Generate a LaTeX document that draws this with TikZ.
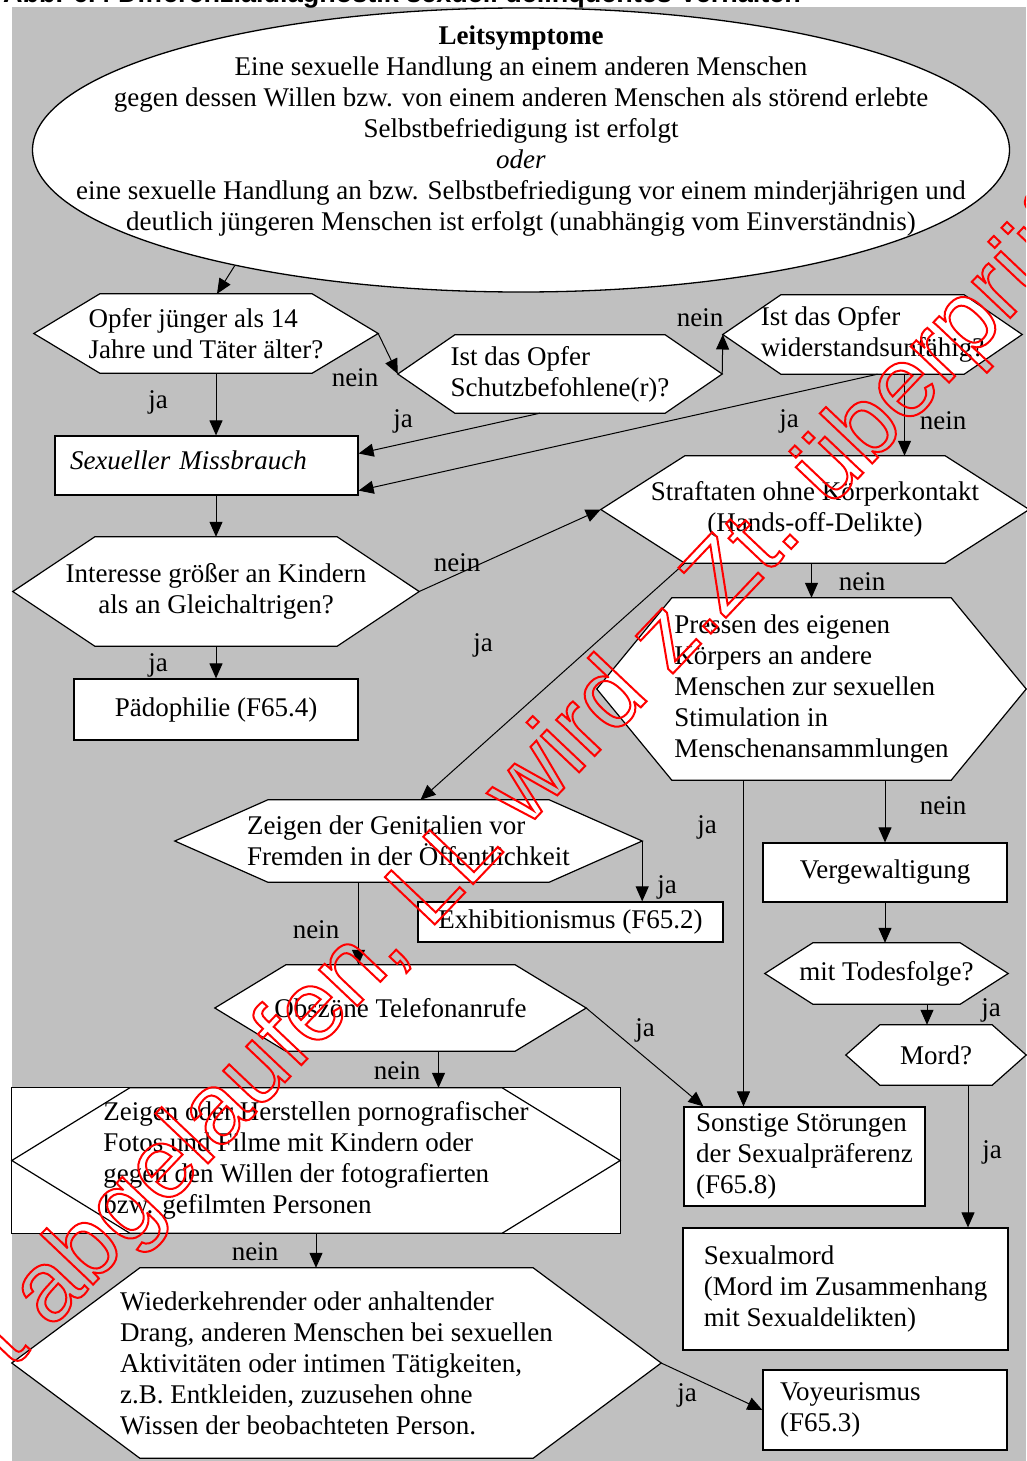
\documentclass[tikz,border=0pt]{standalone}
\usepackage{fontspec}
\setmainfont{Liberation Serif}
\newfontfamily\headsans{Liberation Sans}
\usetikzlibrary{arrows.meta}
\usetikzlibrary{calc}
\usetikzlibrary{positioning}
\usetikzlibrary{shapes.geometric}
\usetikzlibrary{backgrounds}

\newcommand{\bodyfont}{\fontsize{27}{31}\selectfont}
\newcommand{\titlefont}{\headsans\bfseries\fontsize{27}{31}\selectfont}
\newcommand{\stampfont}{\headsans\fontsize{100}{110}\selectfont}
\newcommand{\outlinetext}[1]{\special{pdf:literal direct 1 Tr 2 w 1 0 0 RG}#1\special{pdf:literal direct 0 Tr}}
\newcommand{\hexoutline}[2]{%
  \path[hexline] (#1.west) -- ($(#1.north west)+(#2,0)$) -- ($(#1.north east)+(-#2,0)$)
    -- (#1.east) -- ($(#1.south east)+(-#2,0)$) -- ($(#1.south west)+(#2,0)$) -- cycle;}

\definecolor{panelgray}{HTML}{C0C0C0}
\definecolor{stampred}{HTML}{FF0000}

\tikzset{
    leadshape/.style={ellipse, draw, fill=white, line width=1.3pt, inner sep=0pt,
        minimum width=977pt, minimum height=284pt},
    hexnode/.style={inner sep=0pt, align=left},
    hexline/.style={draw, fill=white, line width=1.2pt},
    boxnode/.style={draw, fill=white, line width=1.2pt, inner sep=0pt, align=left},
    answer/.style={inner sep=0pt},
    stampnode/.style={inner sep=0pt, font=\stampfont, text=stampred},
}
\tikzstyle{flowline} = [draw, line width=1pt, -{Triangle[length=15pt,width=13pt]}]

\begin{document}
\begin{tikzpicture}[x=1pt, y=-1pt, font=\bodyfont]
    \useasboundingbox (0,0) rectangle (1026,1461);

    % Leitsymptome
    \node (lead) [leadshape] at (521,150) {};
    \node (leadtext) [align=center, inner sep=0pt] at (521,131) {\textbf{Leitsymptome}\\
        Eine sexuelle Handlung an einem anderen Menschen\\
        gegen dessen Willen bzw. von einem anderen Menschen als störend erlebte\\
        Selbstbefriedigung ist erfolgt\\
        \textit{oder}\\
        eine sexuelle Handlung an bzw. Selbstbefriedigung vor einem minderjährigen und\\
        deutlich jüngeren Menschen ist erfolgt (unabhängig vom Einverständnis)};

    % first row of questions
    \node (opfer) [hexnode, minimum width=344pt, minimum height=79pt] at (206,333.5)
        {Opfer jünger als 14\\Jahre und Täter älter?};
    \node (schutz) [hexnode, minimum width=324pt, minimum height=78pt] at (560,374)
        {Ist das Opfer\\Schutzbefohlene(r)?};
    \node (wider) [hexnode, minimum width=299pt, minimum height=79pt] at (872.5,334.5)
        {Ist das Opfer\\widerstandsunfähig?};

    % left column
    \node (miss) [boxnode, minimum width=303pt, minimum height=59pt, text width=273pt,
        text depth=10pt] at (206.5,465.5) {\textit{Sexueller Missbrauch}};
    \node (inter) [hexnode, align=center, minimum width=406pt, minimum height=109pt] at (216,591.5)
        {Interesse größer an Kindern\\als an Gleichaltrigen?};
    \node (paedo) [boxnode, minimum width=284pt, minimum height=61pt] at (216,709.5)
        {Pädophilie (F65.4)};

    % right column
    \node (straf) [hexnode, align=center, minimum width=428pt, minimum height=107pt] at (815,509.5)
        {Straftaten ohne Körperkontakt\\(Hands-off-Delikte)};
    \node (pressen) [hexnode, minimum width=429pt, minimum height=182pt] at (811.5,689)
        {Pressen des eigenen\\Körpers an andere\\Menschen zur sexuellen\\Stimulation in\\Menschenansammlungen};
    \node (verge) [boxnode, minimum width=244pt, minimum height=59pt] at (885,872.5)
        {Vergewaltigung};
    \node (todes) [hexnode, minimum width=243pt, minimum height=61pt] at (886.5,973.5)
        {mit Todesfolge?};
    \node (mord) [hexnode, minimum width=180pt, minimum height=60pt] at (936,1055)
        {Mord?};
    \node (sonst) [boxnode, minimum width=241pt, minimum height=99pt] at (804.5,1156.5)
        {Sonstige Störungen\\der Sexualpräferenz\\(F65.8)};
    \node (sexmord) [boxnode, minimum width=325pt, minimum height=122pt] at (845.5,1289)
        {Sexualmord\\(Mord im Zusammenhang\\mit Sexualdelikten)};
    \node (voy) [boxnode, minimum width=244pt, minimum height=80pt, text width=210pt] at (885,1410)
        {Voyeurismus\\(F65.3)};

    % hands-off chain
    \node (genital) [hexnode, minimum width=467pt, minimum height=82pt] at (408.5,841)
        {Zeigen der Genitalien vor\\Fremden in der Öffentlichkeit};
    \node (exhib) [boxnode, minimum width=305pt, minimum height=40pt] at (570.5,922)
        {Exhibitionismus (F65.2)};
    \node (obsz) [hexnode, minimum width=371pt, minimum height=86pt] at (400.5,1008)
        {Obszöne Telefonanrufe};
    \node (porno) [hexnode, minimum width=608pt, minimum height=145pt] at (316,1160.5)
        {Zeigen oder Herstellen pornografischer\\Fotos und Filme mit Kindern oder\\gegen den Willen der fotografierten\\bzw. gefilmten Personen};
    \node (wieder) [hexnode, minimum width=649pt, minimum height=190pt] at (336.5,1363)
        {Wiederkehrender oder anhaltender\\Drang, anderen Menschen bei sexuellen\\Aktivitäten oder intimen Tätigkeiten,\\z.B. Entkleiden, zuzusehen ohne\\Wissen der beobachteten Person.};

    \begin{scope}[on background layer]
        \fill[panelgray] (12,7) rectangle (1026,1461);
        \hexoutline{opfer}{66}
        \hexoutline{schutz}{57}
        \hexoutline{wider}{58}
        \hexoutline{inter}{82}
        \hexoutline{straf}{84}
        \hexoutline{pressen}{75}
        \hexoutline{todes}{48}
        \hexoutline{mord}{34}
        \hexoutline{genital}{93}
        \hexoutline{obsz}{71}
        \path[hexline] (porno.north west) rectangle (porno.south east);
        \hexoutline{porno}{118}
        \hexoutline{wieder}{128}
    \end{scope}

    % connector ends
    \coordinate (opfer-in) at ($(opfer.north)+(11,0)$);
    \coordinate (schutz-ja) at ($(schutz.south)+(-20,0)$);
    \coordinate (miss-in1) at ($(miss.east)+(0,-12)$);
    \coordinate (wider-ja) at ($(wider.south)+(5,0)$);
    \coordinate (miss-in2) at ($(miss.south east)+(0,-5)$);
    \coordinate (wider-nein) at ($(wider.south)+(32,0)$);
    \coordinate (straf-ja) at ($(straf.south west)+(84,0)$);
    \coordinate (genital-in) at ($(genital.north)+(12,0)$);
    \coordinate (pressen-ja) at ($(pressen.south)+(-68,0)$);
    \coordinate (mord-in) at ($(mord.north)+(-9,0)$);
    \coordinate (mord-ja) at ($(mord.south)+(32,0)$);
    \coordinate (genital-nein) at ($(genital.south)+(-50,0)$);
    \coordinate (sonst-in) at ($(sonst.north west)+(20,0)$);
    \coordinate (obsz-nein) at ($(obsz.south)+(38,0)$);

    \path[flowline] (lead.202) -- (opfer-in);
    \path[flowline] (opfer.east) -- (schutz.west);
    \path[flowline] (schutz.east) -- (wider.west);
    \path[flowline] (schutz-ja) -- (miss-in1);
    \path[flowline] (wider-ja) -- (miss-in2);
    \path[flowline] (wider-nein) -- (wider-nein |- straf.north);
    \path[flowline] (opfer.south -| paedo) -- (miss.north -| paedo);
    \path[flowline] (miss.south -| paedo) -- (inter.north -| paedo);
    \path[flowline] (inter.south -| paedo) -- (paedo.north);
    \path[flowline] (inter.east) -- (straf.west);
    \path[flowline] (straf.south -| pressen.north) -- (pressen.north);
    \path[flowline] (straf-ja) -- (genital-in);
    \path[flowline] (pressen-ja) -- (pressen-ja |- sonst.north);
    \path[flowline] (pressen.south -| verge.north) -- (verge.north);
    \path[flowline] (verge.south) -- (verge.south |- todes.north);
    \path[flowline] (todes.south -| mord-in) -- (mord-in);
    \path[flowline] (mord-ja) -- (mord-ja |- sexmord.north);
    \path[flowline] (genital.east) -- (genital.east |- exhib.north);
    \path[flowline] (genital-nein) -- (genital-nein |- obsz.north);
    \path[flowline] (obsz.east) -- (sonst-in);
    \path[flowline] (obsz-nein) -- (obsz-nein |- porno.north);
    \path[flowline] (porno.south) -- (porno.south |- wieder.north);
    \path[flowline] (wieder.east) -- (voy.west);

    % answers
    \node (nein-opfer) [answer] at (355,378) {nein};
    \node (ja-opfer) [answer] at (158,402) {ja};
    \node (nein-schutz) [answer] at (700,318) {nein};
    \node (ja-schutz) [answer] at (403,421) {ja};
    \node (ja-wider) [answer] at (789,421) {ja};
    \node (nein-wider) [answer] at (943,421) {nein};
    \node (nein-inter) [answer] at (457,563) {nein};
    \node (ja-inter) [answer] at (158,665) {ja};
    \node (ja-straf) [answer] at (483,645) {ja};
    \node (nein-straf) [answer] at (862,582) {nein};
    \node (ja-pressen) [answer] at (707,827) {ja};
    \node (nein-pressen) [answer] at (943,806) {nein};
    \node (ja-genital) [answer] at (667,887) {ja};
    \node (nein-genital) [answer] at (316,930) {nein};
    \node (ja-todes) [answer] at (991,1010) {ja};
    \node (ja-obsz) [answer] at (645,1030) {ja};
    \node (nein-obsz) [answer] at (397,1071) {nein};
    \node (ja-mord) [answer] at (992,1152) {ja};
    \node (nein-porno) [answer] at (255,1252) {nein};
    \node (ja-wieder) [answer] at (687,1395) {ja};

    % caption and stamp, cut at the page edge
    \begin{scope}
        \clip (0,0) rectangle (1026,1461);
        \node (caption) [anchor=base west, inner sep=0pt, font=\titlefont] at (3,3)
            {Abb. 6.4 Differenzialdiagnostik sexuell delinquentes Verhalten};
        \node (stamp) [stampnode, rotate=46.5, anchor=base west] at (12,1370)
            {\outlinetext{t abgelaufen, LL wird z.Zt. überprüft}};
    \end{scope}
\end{tikzpicture}
\end{document}
